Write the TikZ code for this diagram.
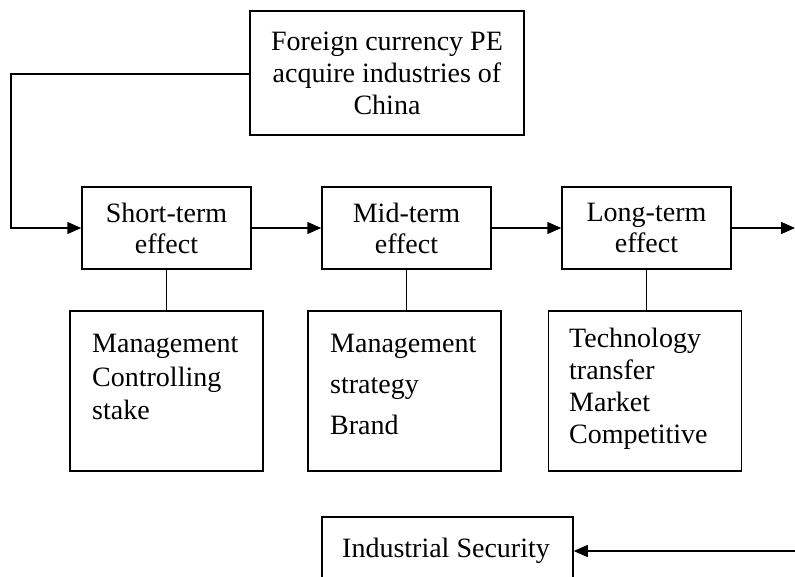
\documentclass[tikz,border=0pt]{standalone}
\usepackage{fontspec}
\setmainfont{Liberation Serif}
\usetikzlibrary{arrows.meta}
\begin{document}
\begin{tikzpicture}[x=1pt,y=-1pt,
  box/.style={draw, line width=1.5pt, inner sep=0pt, align=center},
  conn/.style={line width=1.5pt},
  arr/.style={conn, -{Triangle[length=14pt,width=12pt]}},
  txt/.style={inner sep=0pt, anchor=north west, align=left},
  font=\fontsize{28}{32}\selectfont]
\clip (0,0) rectangle (795,576);
\fill[white] (0,0) rectangle (795,576);
% top box
\node[box, minimum width=274pt, minimum height=124pt] (top) at (387,73)
  {Foreign currency PE\\acquire industries of\\China};
% effect boxes
\node[box, minimum width=169pt, minimum height=82pt, font=\fontsize{28}{31}\selectfont] (st) at (166.5,228) {Short-term\\effect};
\node[box, minimum width=169pt, minimum height=82pt, font=\fontsize{28}{31}\selectfont] (mt) at (406.5,228) {Mid-term\\effect};
\node[box, minimum width=169pt, minimum height=82pt, font=\fontsize{28}{31}\selectfont] (lt) at (646.5,228) {Long-term\\effect};
% lower boxes
\node[box, minimum width=193pt, minimum height=160pt] (b1) at (166.5,391) {};
\node[box, minimum width=193pt, minimum height=160pt] (b2) at (404.5,391) {};
\node[box, minimum width=193pt, minimum height=160pt] (b3) at (645,391) {};
\node[txt, font=\fontsize{28}{33.5}\selectfont] (t1) at (92,334) {Management\\Controlling\\stake};
\node[txt, font=\fontsize{28}{41}\selectfont] (t2) at (330,334) {Management\\strategy\\Brand};
\node[txt, font=\fontsize{28}{32}\selectfont] (t3) at (569,328) {Technology\\transfer\\Market\\Competitive};
% industrial security
\node[box, minimum width=251pt, minimum height=100pt] (ind) at (447.5,567) {};
\node[inner sep=0pt, anchor=base] (indt) at (446,557) {Industrial Security};
% connectors
\coordinate (c1) at (11,74);
\coordinate (c2) at (11,228);
\coordinate (rend) at (795,228);
\coordinate (bstart) at (795,551);
\draw[arr] (top.west |- c1) -- (c1) -- (c2) -- (st.west);
\draw[arr] (st.east) -- (mt.west);
\draw[arr] (mt.east) -- (lt.west);
\draw[arr] (lt.east) -- (rend);
\draw[arr] (bstart) -- (bstart -| ind.east);
\draw[conn] (st.south) -- (st.south |- b1.north);
\draw[conn] (mt.south) -- (mt.south |- b2.north);
\draw[conn] (lt.south) -- (lt.south |- b3.north);
\end{tikzpicture}
\end{document}
